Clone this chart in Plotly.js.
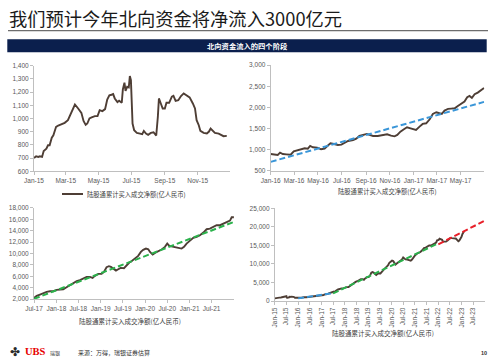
<!DOCTYPE html>
<html>
<head>
<meta charset="utf-8">
<script src="https://cdn.plot.ly/plotly-3.0.1.min.js"></script>
<style>html,body{margin:0;padding:0;background:#fff;}#chart{width:494px;height:362px;}</style>
</head>
<body>
<div id="chart"></div>
<script>
// ---------- DATA ----------
const titleText = '我们预计今年北向资金将净流入3000亿元';
const bannerText = '北向资金流入的四个阶段';
const seriesName = '陆股通累计买入成交净额(亿人民币)';
const sourceText = '来源：万得，瑞银证券估算';

// Panel 1: 2015
const p1Dates = ['2015-01-01','2015-01-05','2015-01-09','2015-01-12','2015-01-16','2015-01-19','2015-01-24','2015-01-27','2015-01-30','2015-02-03','2015-02-06','2015-02-11','2015-02-15','2015-02-21','2015-02-27','2015-03-05','2015-03-08','2015-03-13','2015-03-18','2015-03-24','2015-03-30','2015-04-03','2015-04-07','2015-04-10','2015-04-14','2015-04-18','2015-04-24','2015-04-29','2015-05-03','2015-05-08','2015-05-13','2015-05-17','2015-05-21','2015-05-25','2015-05-28','2015-05-31','2015-06-05','2015-06-08','2015-06-13','2015-06-15','2015-06-18','2015-06-20','2015-06-23','2015-06-26','2015-06-28','2015-06-30','2015-07-01','2015-07-03','2015-07-06','2015-07-11','2015-07-17','2015-07-21','2015-07-24','2015-07-28','2015-08-01','2015-08-06','2015-08-11','2015-08-16','2015-08-19','2015-08-21','2015-08-24','2015-08-28','2015-09-01','2015-09-04','2015-09-09','2015-09-14','2015-09-17','2015-09-21','2015-09-26','2015-10-01','2015-10-06','2015-10-11','2015-10-17','2015-10-23','2015-10-27','2015-10-30','2015-11-03','2015-11-06','2015-11-12','2015-11-18','2015-11-22','2015-11-25','2015-11-29','2015-12-03','2015-12-10','2015-12-14','2015-12-19','2015-12-25'];
const p1Vals = [700,714,709,714,709,754,772,797,797,855,873,937,947,954,967,987,1013,1068,1106,1076,1043,982,952,962,1000,1008,1018,1018,1063,1056,1071,1144,1175,1180,1185,1152,1124,1134,1119,1220,1271,1210,1240,1235,1322,1291,1089,962,911,891,886,881,906,886,876,891,896,871,1013,1152,1119,1076,1076,1119,1119,1165,1172,1134,1139,1170,1190,1177,1160,1114,1076,987,949,906,891,886,901,924,906,891,886,876,866,868];
const p1TickVals = ['2015-01-01','2015-03-01','2015-05-01','2015-07-01','2015-09-01','2015-11-01'];
const p1TickText = ['Jan-15','Mar-15','May-15','Jul-15','Sep-15','Nov-15'];

// Panel 2: 2016 - mid 2017
const p2Dates = ['2016-01-01','2016-01-11','2016-01-19','2016-01-25','2016-02-01','2016-02-10','2016-02-21','2016-02-29','2016-03-11','2016-03-19','2016-03-28','2016-04-05','2016-04-11','2016-04-18','2016-04-29','2016-05-09','2016-05-18','2016-05-25','2016-06-02','2016-06-11','2016-06-21','2016-06-30','2016-07-08','2016-07-17','2016-07-30','2016-08-07','2016-08-15','2016-08-24','2016-09-03','2016-09-10','2016-09-19','2016-10-01','2016-10-14','2016-10-25','2016-11-04','2016-11-13','2016-11-20','2016-11-28','2016-12-07','2016-12-15','2016-12-24','2017-01-01','2017-01-07','2017-01-16','2017-01-24','2017-02-02','2017-02-11','2017-02-19','2017-02-28','2017-03-08','2017-03-14','2017-03-21','2017-03-30','2017-04-07','2017-04-16','2017-04-24','2017-05-03','2017-05-11','2017-05-18','2017-05-24','2017-05-30','2017-06-06','2017-06-14','2017-06-23','2017-06-30'];
const p2Vals = [896,888,872,927,896,888,880,959,991,1007,1030,1022,1086,1054,1046,1007,1022,1086,1149,1133,1110,1117,1165,1204,1228,1260,1323,1347,1371,1347,1323,1323,1339,1363,1331,1315,1347,1426,1481,1529,1505,1489,1465,1545,1608,1624,1719,1845,1885,1861,1845,1924,1964,1972,1980,2035,2082,2138,2241,2272,2225,2312,2351,2415,2462];
const p2TickVals = ['2016-01-01','2016-03-01','2016-05-01','2016-07-01','2016-09-01','2016-11-01','2017-01-01','2017-03-01','2017-05-01'];
const p2TickText = ['Jan-16','Mar-16','May-16','Jul-16','Sep-16','Nov-16','Jan-17','Mar-17','May-17'];
const trendBlueDates = ['2016-01-01','2017-06-30'];
const trendBlueVals = [710,2130];

// Panel 3: mid 2017 - 2021
const p3Dates = ['2017-07-01','2017-07-23','2017-08-19','2017-09-16','2017-10-13','2017-11-10','2017-12-07','2018-01-03','2018-01-31','2018-02-27','2018-03-26','2018-04-23','2018-05-20','2018-06-17','2018-07-14','2018-08-10','2018-09-07','2018-10-04','2018-10-26','2018-11-14','2018-12-12','2019-01-08','2019-01-27','2019-02-18','2019-03-09','2019-03-26','2019-04-14','2019-05-06','2019-05-25','2019-06-13','2019-07-11','2019-08-02','2019-08-24','2019-09-11','2019-10-09','2019-11-05','2019-11-27','2019-12-16','2020-01-08','2020-01-27','2020-02-10','2020-03-03','2020-03-22','2020-04-18','2020-05-16','2020-06-12','2020-07-01','2020-07-18','2020-08-06','2020-09-03','2020-09-30','2020-10-27','2020-11-16','2020-12-07','2021-01-04','2021-01-31','2021-02-28','2021-03-27','2021-04-24','2021-05-21','2021-06-17','2021-07-15','2021-08-11','2021-09-08','2021-10-05','2021-11-01','2021-11-29','2021-12-13','2021-12-31'];
const p3Vals = [2232,2582,2816,3108,3283,3400,3400,3634,3750,3750,4101,4451,4918,5152,5327,5619,5911,5911,5736,6086,6437,6437,6787,7605,7780,7663,7371,7021,7254,7488,7430,7955,8422,8656,9123,9590,10291,10642,10875,10758,10291,9824,10116,10408,10700,11167,11751,11342,11226,11167,10992,10875,11167,11751,12335,12744,12919,13211,13678,14262,14379,14613,14963,14963,15197,15430,15781,16365,16365];
const p3TickVals = ['2017-07-01','2018-01-01','2018-07-01','2019-01-01','2019-07-01','2020-01-01','2020-07-01','2021-01-01','2021-07-01'];
const p3TickText = ['Jul-17','Jan-18','Jul-18','Jan-19','Jul-19','Jan-20','Jul-20','Jan-21','Jul-21'];
const trendGreenDates = ['2017-07-01','2021-12-31'];
const trendGreenVals = [2050,15550];

// Panel 4: 2022 - early 2023 (rest of the full history comes from panels 1-3)
const p4Dates = ['2022-01-07','2022-01-20','2022-02-10','2022-03-01','2022-03-15','2022-04-10','2022-05-01','2022-05-25','2022-06-15','2022-07-08','2022-08-01','2022-09-01','2022-10-01','2022-10-25','2022-11-10','2022-11-25','2022-12-10','2022-12-30','2023-01-12','2023-01-25','2023-02-08'];
const p4Vals = [16500,16800,16700,16500,16000,15900,16000,16300,16700,17000,16950,16900,16850,16400,16100,16300,16700,17300,18000,18600,18800];
const p4TickVals = ['2015-01-01','2015-07-01','2016-01-01','2016-07-01','2017-01-01','2017-07-01','2018-01-01','2018-07-01','2019-01-01','2019-07-01','2020-01-01','2020-07-01','2021-01-01','2021-07-01','2022-01-01','2022-07-01','2023-01-01','2023-07-01'];
const p4TickText = ['Jan-15','Jul-15','Jan-16','Jul-16','Jan-17','Jul-17','Jan-18','Jul-18','Jan-19','Jul-19','Jan-20','Jul-20','Jan-21','Jul-21','Jan-22','Jul-22','Jan-23','Jul-23'];
const trendRedDates = ['2022-01-01','2024-01-01'];
const trendRedVals = [15300,21700];

// ---------- STYLE ----------
const W = 494, H = 362;
const px = v => v / W;
const py = v => 1 - v / H;
const BROWN = '#4E3E35', BLUE = '#3A96D8', GREEN = '#2BB24C', RED = '#E8202A';
const AXC = '#BFBFBF', TXC = '#595959';
const NUMFONT = 'Liberation Sans, Arial, sans-serif';
const CJK = 'Noto Sans CJK SC, sans-serif';

const allDates = p1Dates.concat(p2Dates, p3Dates, p4Dates);
const allVals = p1Vals.concat(p2Vals, p3Vals, p4Vals);

const mainLine = {color: BROWN, width: 1.9};
const dashed = c => ({color: c, width: 2, dash: '6px,3px'});

const traces = [
  {x: p1Dates, y: p1Vals, type: 'scatter', mode: 'lines', line: mainLine, xaxis: 'x', yaxis: 'y', name: seriesName},
  {x: p2Dates, y: p2Vals, type: 'scatter', mode: 'lines', line: mainLine, xaxis: 'x2', yaxis: 'y2', name: seriesName},
  {x: trendBlueDates, y: trendBlueVals, type: 'scatter', mode: 'lines', line: dashed(BLUE), xaxis: 'x2', yaxis: 'y2'},
  {x: p3Dates, y: p3Vals, type: 'scatter', mode: 'lines', line: mainLine, xaxis: 'x3', yaxis: 'y3', name: seriesName},
  {x: trendGreenDates, y: trendGreenVals, type: 'scatter', mode: 'lines', line: dashed(GREEN), xaxis: 'x3', yaxis: 'y3'},
  {x: allDates, y: allVals, type: 'scatter', mode: 'lines', line: mainLine, xaxis: 'x4', yaxis: 'y4', name: seriesName},
  {x: trendBlueDates, y: trendBlueVals, type: 'scatter', mode: 'lines', line: dashed(BLUE), xaxis: 'x4', yaxis: 'y4'},
  {x: trendGreenDates, y: trendGreenVals, type: 'scatter', mode: 'lines', line: dashed(GREEN), xaxis: 'x4', yaxis: 'y4'},
  {x: trendRedDates, y: trendRedVals, type: 'scatter', mode: 'lines', line: dashed(RED), xaxis: 'x4', yaxis: 'y4'}
];

function xax(domain, anchor, range, tv, tt, extra) {
  return Object.assign({
    domain: domain, anchor: anchor, type: 'date', range: range,
    tickmode: 'array', tickvals: tv, ticktext: tt,
    showline: true, linecolor: AXC, linewidth: 1, ticks: 'outside', ticklen: 3, tickcolor: AXC,
    showgrid: false, zeroline: false, fixedrange: true,
    tickfont: {family: NUMFONT, size: 6.5, color: TXC}
  }, extra || {});
}
function yax(domain, anchor, range, dtick) {
  return {
    domain: domain, anchor: anchor, range: range, dtick: dtick, tickformat: ',',
    showline: true, linecolor: AXC, linewidth: 1, ticks: 'outside', ticklen: 3, tickcolor: AXC,
    showgrid: false, zeroline: false, fixedrange: true,
    tickfont: {family: NUMFONT, size: 6.5, color: TXC}
  };
}

const layout = {
  width: W, height: H, margin: {l: 0, r: 0, t: 0, b: 0},
  paper_bgcolor: '#ffffff', plot_bgcolor: 'rgba(0,0,0,0)', showlegend: false,
  font: {family: NUMFONT, size: 6.5, color: TXC},
  xaxis: xax([px(34), px(230)], 'y', ['2015-01-01', '2015-12-31'], p1TickVals, p1TickText),
  yaxis: yax([py(171.3), py(65.7)], 'x', [600, 1400], 100),
  xaxis2: xax([px(270.7), px(484.4)], 'y2', ['2016-01-01', '2017-07-01'], p2TickVals, p2TickText),
  yaxis2: yax([py(170.7), py(65.2)], 'x2', [500, 3000], 500),
  xaxis3: xax([px(34), px(234)], 'y3', ['2017-07-01', '2022-01-01'], p3TickVals, p3TickText),
  yaxis3: yax([py(299.2), py(207.9)], 'x3', [2000, 18000], 2000),
  xaxis4: xax([px(274.8), px(485)], 'y4', ['2015-01-01', '2024-01-01'], p4TickVals, p4TickText, {tickangle: -90}),
  yaxis4: yax([py(301), py(208.3)], 'x4', [0, 25000], 5000),
  shapes: [
    {type: 'line', xref: 'paper', yref: 'paper', x0: px(8), x1: px(488), y0: py(30.6), y1: py(30.6), line: {color: '#6E6E6E', width: 1.2}},
    {type: 'rect', xref: 'paper', yref: 'paper', x0: px(7.3), x1: px(486.7), y0: py(52.3), y1: py(39.3), fillcolor: '#0B1F4D', line: {width: 0}},
    {type: 'line', xref: 'paper', yref: 'paper', x0: px(62), x1: px(83), y0: py(194), y1: py(194), line: {color: BROWN, width: 2}}
  ],
  annotations: [
    {text: titleText, xref: 'paper', yref: 'paper', x: px(7), y: py(18.5), xanchor: 'left', yanchor: 'middle', showarrow: false,
     font: {family: CJK, size: 18.3, color: '#1A1A1A'}},
    {text: '<b>' + bannerText + '</b>', xref: 'paper', yref: 'paper', x: px(247), y: py(45.8), xanchor: 'center', yanchor: 'middle', showarrow: false,
     font: {family: CJK, size: 7.3, color: '#FFFFFF'}},
    {text: seriesName, xref: 'paper', yref: 'paper', x: px(85), y: py(194), xanchor: 'left', yanchor: 'middle', showarrow: false,
     font: {family: CJK, size: 6.3, color: '#404040'}},
    {text: seriesName, xref: 'paper', yref: 'paper', x: px(387.5), y: py(191), xanchor: 'center', yanchor: 'middle', showarrow: false,
     font: {family: CJK, size: 6.3, color: '#404040'}},
    {text: seriesName, xref: 'paper', yref: 'paper', x: px(130), y: py(321), xanchor: 'center', yanchor: 'middle', showarrow: false,
     font: {family: CJK, size: 6.5, color: '#404040'}},
    {text: seriesName, xref: 'paper', yref: 'paper', x: px(383), y: py(333), xanchor: 'center', yanchor: 'middle', showarrow: false,
     font: {family: CJK, size: 6.5, color: '#404040'}},
    {text: '✤', xref: 'paper', yref: 'paper', x: px(15.5), y: py(351.5), xanchor: 'center', yanchor: 'middle', showarrow: false,
     font: {family: 'DejaVu Sans', size: 12, color: '#2B2B2B'}},
    {text: '<b>UBS</b>', xref: 'paper', yref: 'paper', x: px(23), y: py(351.5), xanchor: 'left', yanchor: 'middle', showarrow: false,
     font: {family: 'Liberation Serif, serif', size: 10.5, color: '#E60000'}},
    {text: '瑞银', xref: 'paper', yref: 'paper', x: px(48), y: py(352.5), xanchor: 'left', yanchor: 'middle', showarrow: false,
     font: {family: CJK, size: 5, color: '#333333'}},
    {text: sourceText, xref: 'paper', yref: 'paper', x: px(76), y: py(352.5), xanchor: 'left', yanchor: 'middle', showarrow: false,
     font: {family: CJK, size: 6, color: '#333333'}},
    {text: '<b>10</b>', xref: 'paper', yref: 'paper', x: px(484), y: py(352.5), xanchor: 'center', yanchor: 'middle', showarrow: false,
     font: {family: NUMFONT, size: 5.5, color: '#333333'}}
  ]
};

Plotly.newPlot('chart', traces, layout, {staticPlot: true, displayModeBar: false});
</script>
</body>
</html>
